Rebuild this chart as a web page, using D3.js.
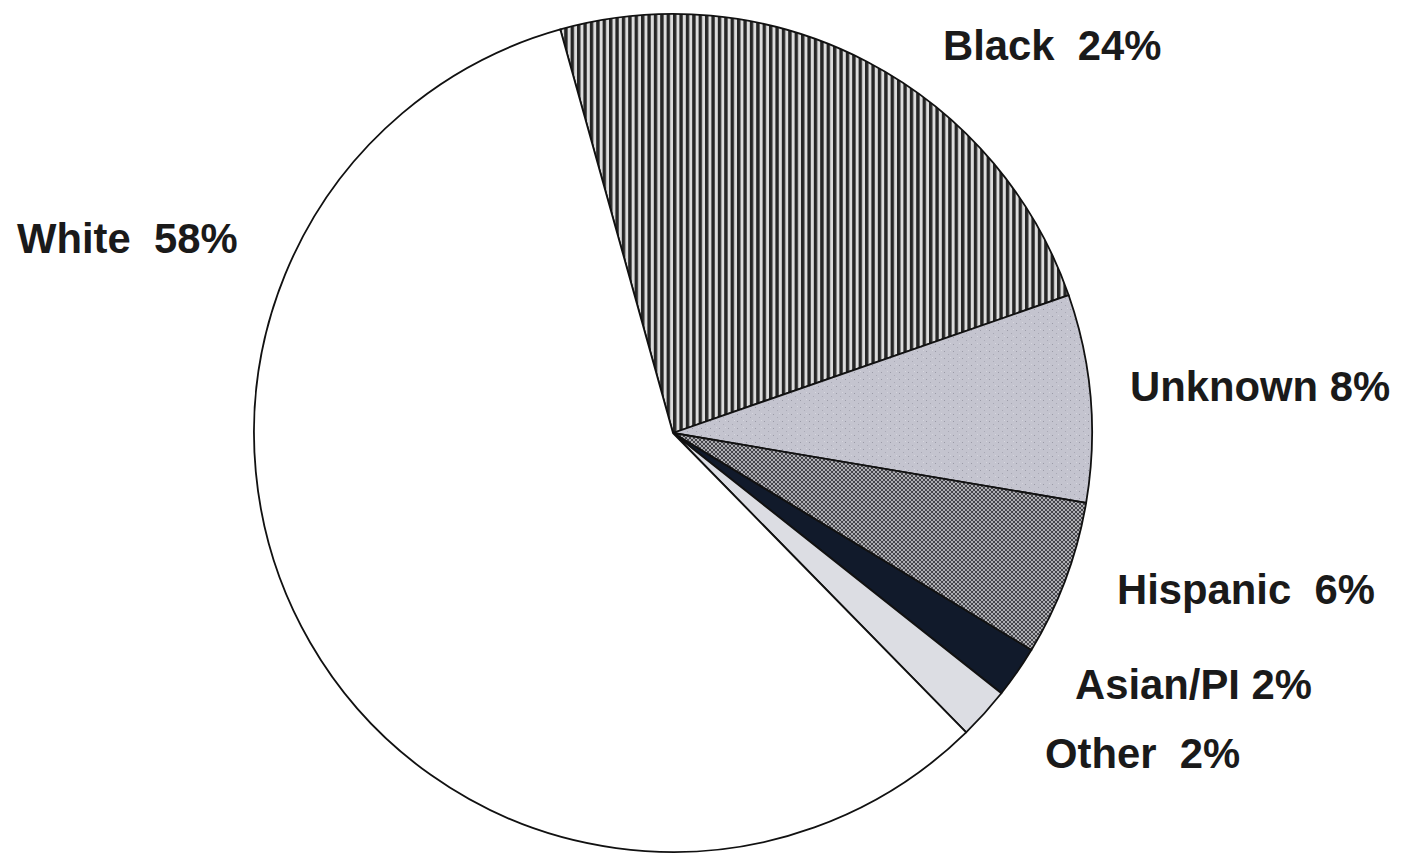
<!DOCTYPE html>
<html><head><meta charset="utf-8">
<script src="https://cdn.jsdelivr.net/npm/d3@7"></script>
<style>body{margin:0;background:#fff}svg{display:block}</style>
</head><body>
<svg id="c" width="1401" height="856"></svg>
<script>
const categories = ["Black", "Unknown", "Hispanic", "Asian/PI", "Other", "White"];
const values = [24, 8, 6, 2, 2, 58];
const labels = ["Black  24%", "Unknown 8%", "Hispanic  6%", "Asian/PI 2%", "Other  2%", "White  58%"];

// layout (not data)
const cx = 673, cy = 433, R = 419;
const startDeg = -15.6;
const labelPos = {
  "Black": [943, 60], "Unknown": [1130, 401], "Hispanic": [1117, 604],
  "Asian/PI": [1075, 699], "Other": [1045, 768], "White": [17, 253]
};

const svg = d3.select("#c");
const defs = svg.append("defs");
// vertical stripes for Black
const p1 = defs.append("pattern").attr("id","stripes").attr("patternUnits","userSpaceOnUse")
  .attr("width",6.4).attr("height",10);
p1.append("rect").attr("width",6.4).attr("height",10).attr("fill","#dcdcdc");
p1.append("rect").attr("width",3.4).attr("height",10).attr("fill","#262626");
// fine checker for Hispanic
const p2 = defs.append("pattern").attr("id","checker").attr("patternUnits","userSpaceOnUse")
  .attr("width",4).attr("height",4);
p2.append("rect").attr("width",4).attr("height",4).attr("fill","#aeaeb2");
p2.append("rect").attr("width",2).attr("height",2).attr("fill","#45454b");
p2.append("rect").attr("x",2).attr("y",2).attr("width",2).attr("height",2).attr("fill","#45454b");
// speckle for Unknown
const p3 = defs.append("pattern").attr("id","speckle").attr("patternUnits","userSpaceOnUse")
  .attr("width",9).attr("height",7);
p3.append("rect").attr("width",9).attr("height",7).attr("fill","#c4c4cf");
p3.append("rect").attr("x",1).attr("y",2).attr("width",1).attr("height",1).attr("fill","#9a9aa6");
p3.append("rect").attr("x",5).attr("y",5).attr("width",1).attr("height",1).attr("fill","#a8a8b4");
p3.append("rect").attr("x",7).attr("y",1).attr("width",1).attr("height",1).attr("fill","#d6d6de");

const fills = d3.scaleOrdinal().domain(categories)
  .range(["url(#stripes)", "url(#speckle)", "url(#checker)", "#111a2b", "#dcdde3", "#ffffff"]);

const pie = d3.pie().sort(null).value(d => d.v)
  .startAngle(startDeg * Math.PI / 180)
  .endAngle(startDeg * Math.PI / 180 + 2 * Math.PI);
const arc = d3.arc().innerRadius(0).outerRadius(R);
const data = categories.map((c, i) => ({c, v: values[i], l: labels[i]}));

const g = svg.append("g").attr("transform", `translate(${cx},${cy})`);
g.selectAll("path").data(pie(data)).join("path")
  .attr("d", arc)
  .attr("fill", d => fills(d.data.c))
  .attr("stroke", "#111")
  .attr("stroke-width", 1.8)
  .attr("stroke-linejoin", "round");

svg.selectAll("text.lbl").data(data).join("text")
  .attr("class","lbl")
  .attr("x", d => labelPos[d.c][0])
  .attr("y", d => labelPos[d.c][1])
  .attr("font-family", "Liberation Sans, Arial, sans-serif")
  .attr("font-weight", "bold")
  .attr("font-size", 41.8)
  .attr("fill", "#1a1a1a")
  .style("white-space", "pre")
  .text(d => d.l);
</script>
</body></html>
